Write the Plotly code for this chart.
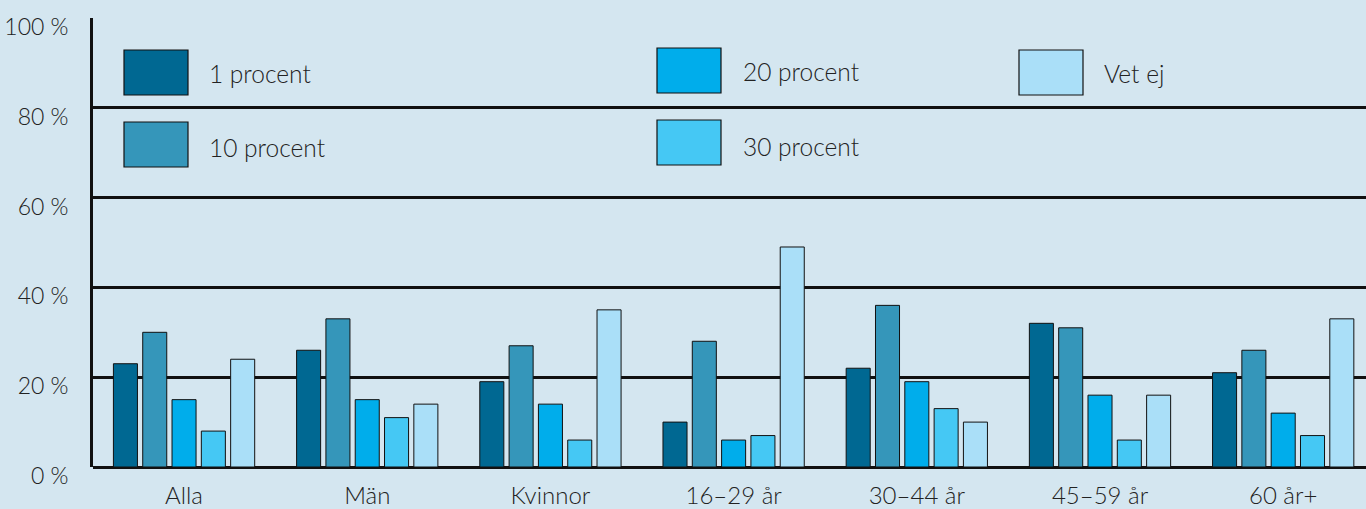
import plotly.graph_objects as go

categories = ["Alla", "Män", "Kvinnor", "16–29 år", "30–44 år", "45–59 år", "60 år+"]
series_names = ["1 procent", "10 procent", "20 procent", "30 procent", "Vet ej"]
v_1 = [23, 26, 19, 10, 22, 32, 21]
v_10 = [30, 33, 27, 28, 36, 31, 26]
v_20 = [15, 15, 14, 6, 19, 16, 12]
v_30 = [8, 11, 6, 7, 13, 6, 7]
v_vet = [24, 14, 35, 49, 10, 16, 33]
series_values = [v_1, v_10, v_20, v_30, v_vet]
colors = ["#006892", "#3596ba", "#00adeb", "#45c8f4", "#aadff8"]
tick_vals = [0, 20, 40, 60, 80, 100]
tick_text = ["0 %", "20 %", "40 %", "60 %", "80 %", "100 %"]

BG = "#d4e6f0"
FONT = "Lato"
FW = 300

fig = go.Figure()
for name, vals, col in zip(series_names, series_values, colors):
    fig.add_trace(go.Bar(
        x=categories, y=vals, name=name,
        marker=dict(color=col, line=dict(color="#111111", width=1)),
        showlegend=False,
    ))

W, H = 1366, 509
ml, mr, mt, mb = 93, 0, 18, 42
pw, ph = W - ml - mr, H - mt - mb

def px_x(px):
    return (px - ml) / pw

def px_y(py):
    return (H - mb - py) / ph

legend_pos = [
    (124, 50, 207, 73),
    (124, 122, 207, 148),
    (657, 48, 741, 71),
    (657, 120, 741, 146),
    (1019, 50, 1102, 73),
]
shapes = []
annotations = []
for (sx, sy, tx, ty), name, col in zip(legend_pos, series_names, colors):
    shapes.append(dict(
        type="rect", xref="paper", yref="paper",
        x0=px_x(sx), x1=px_x(sx + 64), y0=px_y(sy + 45), y1=px_y(sy),
        fillcolor=col, line=dict(color="#111111", width=1.2), layer="above",
    ))
    annotations.append(dict(
        xref="paper", yref="paper", x=px_x(tx), y=px_y(ty),
        text=name, showarrow=False, xanchor="left", yanchor="middle",
        font=dict(family=FONT, size=24.5, color="#222222", weight=FW),
    ))

fig.update_layout(
    width=W, height=H,
    margin=dict(l=ml, r=mr, t=mt, b=mb),
    paper_bgcolor=BG, plot_bgcolor=BG,
    barmode="group", bargap=0.2, bargroupgap=0.18,
    font=dict(family=FONT, size=20, color="#222222", weight=FW),
    shapes=shapes, annotations=annotations,
    xaxis=dict(
        range=[-0.497, 6.452],
        showgrid=False, showline=False, ticks="",
        ticklabelstandoff=12,
        tickfont=dict(family=FONT, size=24, color="#222222", weight=FW),
        fixedrange=True,
    ),
    yaxis=dict(
        range=[0, 100], tickvals=tick_vals, ticktext=tick_text,
        showgrid=True, gridcolor="#111111", gridwidth=2.8,
        zeroline=True, zerolinecolor="#111111", zerolinewidth=3.2,
        showline=True, linecolor="#111111", linewidth=2.8,
        ticks="", ticklabelstandoff=17, ticklabelshift=9,
        tickfont=dict(family=FONT, size=23, color="#222222", weight=FW),
        fixedrange=True,
    ),
)

fig.write_html("out.html", config={"displayModeBar": False},
               post_script="document.body.style.margin='0';")
